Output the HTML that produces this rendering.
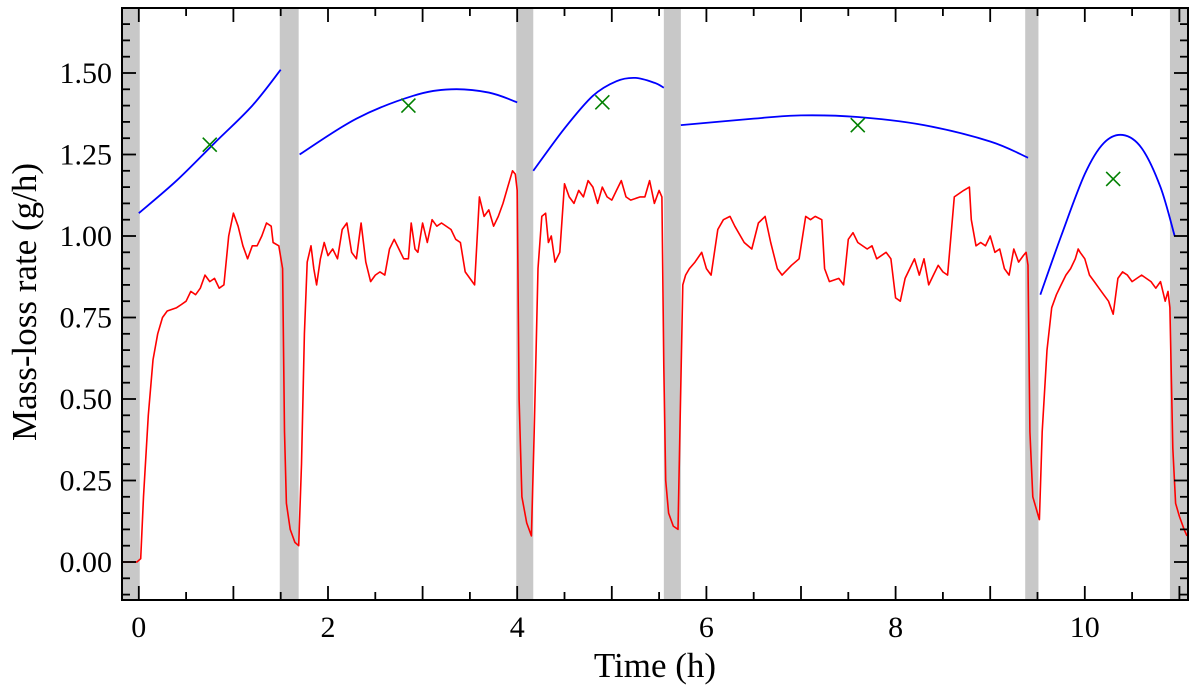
<!DOCTYPE html>
<html><head><meta charset="utf-8"><style>
html,body{margin:0;padding:0;background:#fff;}
svg{display:block;font-family:"Liberation Serif","DejaVu Serif",serif;}
</style></head><body>
<svg id="chart" width="1200" height="688" viewBox="0 0 1200 688" xmlns="http://www.w3.org/2000/svg">
<g id="bands"></g>
<g id="plot"></g>
<g id="axes"></g>
<text x="655" y="677" font-size="35" text-anchor="middle">Time (h)</text>
<text transform="translate(36,302) rotate(-90)" font-size="35" text-anchor="middle">Mass-loss rate (g/h)</text>
</svg>
<script>
const bandStarts=[-0.2,1.49,3.99,5.55,9.37,10.9];
const bandEnds=[0.01,1.69,4.17,5.73,9.51,11.1];
const xTicks=[0,2,4,6,8,10];
const yTicks=[0,0.25,0.5,0.75,1.0,1.25,1.5];
const yTickLabels=["0.00","0.25","0.50","0.75","1.00","1.25","1.50"];
const fitT=[[0,0.4,0.8,1.2,1.5],[1.7,2.3,2.9,3.3,3.7,4.0],[4.17,4.5,4.8,5.05,5.25,5.45,5.55],[5.73,6.5,7.0,7.6,8.3,9.0,9.4],[9.53,9.75,10.0,10.2,10.4,10.6,10.8,10.95]];
const fitV=[[1.07,1.17,1.285,1.40,1.51],[1.25,1.36,1.43,1.45,1.44,1.41],[1.20,1.33,1.43,1.475,1.485,1.47,1.455],[1.34,1.36,1.37,1.365,1.34,1.29,1.24],[0.82,1.0,1.19,1.285,1.31,1.27,1.15,1.0]];
const crossT=[0.75,2.85,4.9,7.6,10.3];
const crossV=[1.28,1.40,1.41,1.34,1.175];
const redT=[-0.18,-0.02,0.02,0.05,0.1,0.15,0.2,0.25,0.3,0.4,0.45,0.5,0.55,0.6,0.65,0.7,0.75,0.8,0.85,0.9,0.95,1.0,1.05,1.1,1.15,1.2,1.25,1.3,1.35,1.4,1.42,1.48,1.52,1.54,1.56,1.6,1.65,1.69,1.72,1.75,1.78,1.82,1.85,1.88,1.92,1.96,2.0,2.05,2.1,2.15,2.2,2.25,2.3,2.35,2.4,2.45,2.5,2.55,2.6,2.65,2.7,2.75,2.8,2.85,2.88,2.92,2.95,3.0,3.05,3.1,3.15,3.2,3.3,3.35,3.4,3.45,3.5,3.55,3.6,3.65,3.7,3.75,3.8,3.85,3.9,3.95,3.98,4.0,4.02,4.05,4.1,4.15,4.18,4.22,4.26,4.3,4.33,4.36,4.4,4.45,4.5,4.55,4.6,4.65,4.7,4.75,4.8,4.85,4.9,4.95,5.0,5.05,5.1,5.15,5.2,5.3,5.35,5.4,5.45,5.5,5.53,5.55,5.57,5.6,5.65,5.7,5.72,5.75,5.78,5.82,5.88,5.95,6.0,6.05,6.12,6.18,6.25,6.3,6.4,6.48,6.55,6.62,6.68,6.75,6.8,6.9,6.98,7.05,7.1,7.15,7.22,7.25,7.3,7.4,7.45,7.5,7.55,7.6,7.7,7.75,7.8,7.9,7.95,8.0,8.05,8.1,8.15,8.2,8.25,8.3,8.35,8.4,8.45,8.5,8.55,8.62,8.67,8.72,8.78,8.8,8.85,8.9,8.95,9.0,9.05,9.1,9.15,9.2,9.25,9.3,9.35,9.38,9.4,9.42,9.45,9.5,9.52,9.55,9.6,9.65,9.7,9.75,9.8,9.85,9.9,9.93,9.95,10.0,10.05,10.1,10.15,10.2,10.25,10.3,10.35,10.4,10.45,10.5,10.55,10.6,10.65,10.7,10.75,10.8,10.85,10.88,10.9,10.93,10.96,11.0,11.05,11.08];
const redV=[0.0,0.0,0.01,0.2,0.45,0.62,0.7,0.75,0.77,0.78,0.79,0.8,0.83,0.82,0.84,0.88,0.86,0.87,0.84,0.85,1.0,1.07,1.03,0.97,0.93,0.97,0.97,1.0,1.04,1.03,0.98,0.97,0.9,0.4,0.18,0.1,0.06,0.05,0.3,0.7,0.92,0.97,0.9,0.85,0.93,0.98,0.94,0.96,0.93,1.02,1.04,0.95,0.93,1.04,0.92,0.86,0.88,0.89,0.88,0.96,0.99,0.96,0.93,0.93,1.04,0.96,0.95,1.04,0.98,1.05,1.03,1.04,1.02,0.99,0.98,0.89,0.87,0.85,1.12,1.06,1.08,1.03,1.06,1.1,1.15,1.2,1.19,1.14,0.5,0.2,0.12,0.08,0.4,0.9,1.06,1.07,0.98,1.0,0.92,0.95,1.16,1.12,1.1,1.14,1.12,1.17,1.15,1.1,1.15,1.12,1.11,1.14,1.17,1.12,1.11,1.12,1.12,1.17,1.1,1.14,1.12,0.6,0.25,0.15,0.11,0.1,0.4,0.85,0.88,0.9,0.92,0.95,0.9,0.88,1.02,1.05,1.06,1.03,0.98,0.96,1.04,1.06,0.98,0.9,0.88,0.91,0.93,1.06,1.05,1.06,1.05,0.9,0.86,0.87,0.85,0.99,1.01,0.98,0.96,0.97,0.93,0.95,0.93,0.81,0.8,0.87,0.9,0.93,0.88,0.93,0.85,0.88,0.91,0.89,0.88,1.12,1.13,1.14,1.15,1.05,0.97,0.98,0.97,1.0,0.95,0.96,0.9,0.88,0.96,0.92,0.94,0.95,0.91,0.4,0.2,0.15,0.13,0.4,0.65,0.78,0.82,0.85,0.88,0.9,0.93,0.96,0.95,0.93,0.88,0.86,0.84,0.82,0.8,0.76,0.87,0.89,0.88,0.86,0.87,0.88,0.87,0.86,0.84,0.86,0.8,0.83,0.78,0.35,0.18,0.14,0.1,0.08];

const L=122,R=1188,T=8,B=600;
const X=t=>138.8+t*94.6;
const Y=v=>562-v*326;
const NS="http://www.w3.org/2000/svg";
function mk(tag,attrs,parent){const e=document.createElementNS(NS,tag);for(const k in attrs)e.setAttribute(k,attrs[k]);parent.appendChild(e);return e;}
const bands=document.getElementById('bands'),plot=document.getElementById('plot'),axes=document.getElementById('axes');
const defs=mk('defs',{},document.getElementById('chart'));
const cp=mk('clipPath',{id:'clip'},defs);mk('rect',{x:L,y:T,width:R-L,height:B-T},cp);
bands.setAttribute('clip-path','url(#clip)');plot.setAttribute('clip-path','url(#clip)');
bandStarts.forEach((s,i)=>{
  const r=mk('rect',{x:X(s),y:T,width:X(bandEnds[i])-X(s),height:B-T,fill:'#c8c8c8'},bands);
  
  
});
let d=redT.map((t,i)=>(i?'L':'M')+X(t).toFixed(1)+','+Y(redV[i]).toFixed(1)).join('');
const rp=mk('path',{d:d,fill:'none',stroke:'#ff0000','stroke-width':1.6,'stroke-linejoin':'round'},plot);


fitT.forEach((ts,k)=>{
  const vs=fitV[k];const pts=ts.map((t,i)=>[X(t),Y(vs[i])]);
  let s='M'+pts[0][0]+','+pts[0][1];
  for(let i=0;i<pts.length-1;i++){
    const p0=pts[Math.max(0,i-1)],p1=pts[i],p2=pts[i+1],p3=pts[Math.min(pts.length-1,i+2)];
    const c1=[p1[0]+(p2[0]-p0[0])/6,p1[1]+(p2[1]-p0[1])/6],c2=[p2[0]-(p3[0]-p1[0])/6,p2[1]-(p3[1]-p1[1])/6];
    s+='C'+c1.join(',')+' '+c2.join(',')+' '+p2.join(',');
  }
  const bp=mk('path',{d:s,fill:'none',stroke:'#0000ff','stroke-width':1.8},plot);
  
  
});
crossT.forEach((t,i)=>{
  const cx=X(t),cy=Y(crossV[i]),r=7;
  const c=mk('path',{d:`M${cx-r},${cy-r}L${cx+r},${cy+r}M${cx-r},${cy+r}L${cx+r},${cy-r}`,stroke:'#008000','stroke-width':1.6,fill:'none'},plot);
  
  
});
const fr=mk('rect',{x:L,y:T,width:R-L,height:B-T,fill:'none',stroke:'#000','stroke-width':2},axes);


for(let m=0;m<=22;m++){const t=m*0.5;const x=X(t);if(x>R)break;const major=m%2===0;const len=major?14:8;
  mk('line',{x1:x,x2:x,y1:B,y2:B-len,stroke:'#000','stroke-width':1.8},axes);
  mk('line',{x1:x,x2:x,y1:T,y2:T+len,stroke:'#000','stroke-width':1.8},axes);}
xTicks.forEach(t=>{const tx=mk('text',{x:X(t),y:637,'font-size':30,'text-anchor':'middle'},axes);tx.textContent=String(t);
  
  });
for(let m=-2;m<=34;m++){const v=m*0.05;const y=Y(v);if(y>B||y<T)continue;const major=m%5===0;const len=major?14:8;
  mk('line',{x1:L,x2:L+len,y1:y,y2:y,stroke:'#000','stroke-width':1.8},axes);
  mk('line',{x1:R,x2:R-len,y1:y,y2:y,stroke:'#000','stroke-width':1.8},axes);}
yTicks.forEach((v,i)=>{const tx=mk('text',{x:112,y:Y(v)+10,'font-size':30,'text-anchor':'end'},axes);tx.textContent=yTickLabels[i];
  
  });
</script>
</body></html>
